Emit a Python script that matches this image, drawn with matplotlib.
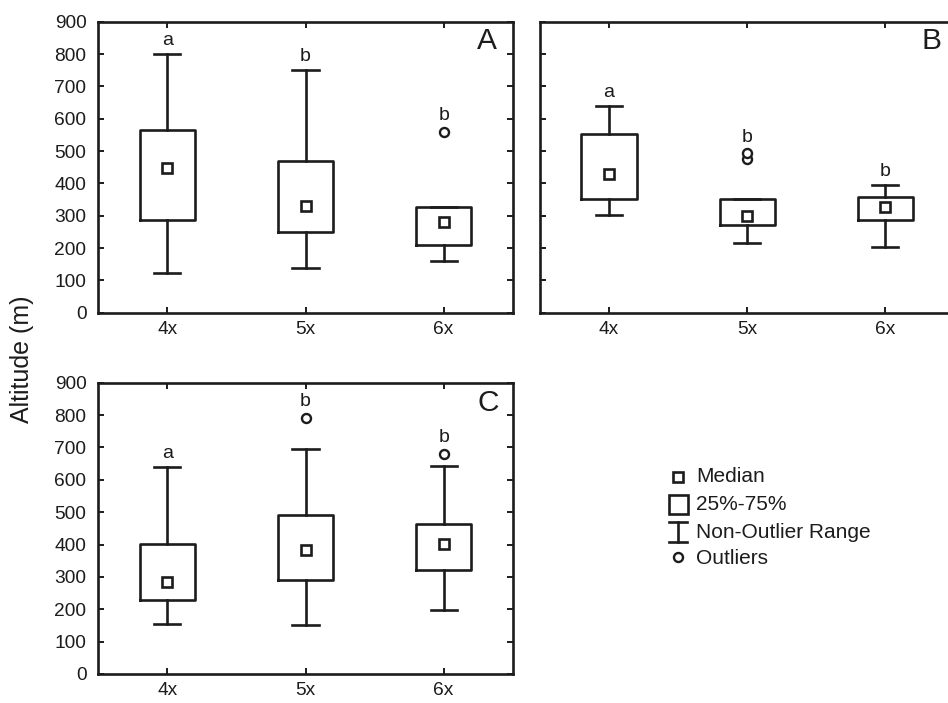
import matplotlib
matplotlib.use("Agg")
import matplotlib.pyplot as plt
from matplotlib.patches import Rectangle

plt.rcParams['font.family'] = ['Liberation Sans', 'DejaVu Sans']

categories = ["4x", "5x", "6x"]
yticks = [0, 100, 200, 300, 400, 500, 600, 700, 800, 900]

# Panel A
A_whislo = [122, 138, 161]
A_q1 = [286, 250, 208]
A_med = [447, 331, 280]
A_q3 = [565, 470, 326]
A_whishi = [800, 750, 326]
A_fliers = [[], [], [560]]
A_letters = ["a", "b", "b"]

# Panel B
B_whislo = [301, 216, 203]
B_q1 = [351, 270, 288]
B_med = [429, 299, 326]
B_q3 = [553, 352, 359]
B_whishi = [640, 352, 395]
B_fliers = [[], [474, 493], []]
B_letters = ["a", "b", "b"]

# Panel C
C_whislo = [153, 150, 199]
C_q1 = [228, 290, 321]
C_med = [285, 383, 402]
C_q3 = [401, 491, 463]
C_whishi = [640, 696, 644]
C_fliers = [[], [792], [681]]
C_letters = ["a", "b", "b"]

INK = "#1c1c1c"
LW = 1.9
W, H = 948, 703
fig = plt.figure(figsize=(W / 100, H / 100), dpi=100)


def px_axes(left, top, right, bottom):
    return fig.add_axes([left / W, 1 - bottom / H, (right - left) / W, (bottom - top) / H])


def draw_panel(ax, whislo, q1, med, q3, whishi, fliers, letters, tag, tag_x, tag_y, show_ylabels=True):
    stats = []
    for i, c in enumerate(categories):
        stats.append(dict(label=c, whislo=whislo[i], q1=q1[i], med=med[i], q3=q3[i],
                          whishi=whishi[i], fliers=fliers[i], mean=med[i]))
    pos = [1, 2, 3]
    ax.bxp(stats, positions=pos, widths=0.40, capwidths=0.19, showmeans=True,
           boxprops=dict(color=INK, linewidth=LW),
           whiskerprops=dict(color=INK, linewidth=LW),
           capprops=dict(color=INK, linewidth=LW),
           medianprops=dict(linewidth=0),
           meanprops=dict(marker='s', markerfacecolor='white', markeredgecolor=INK,
                          markersize=6.8, markeredgewidth=1.9),
           flierprops=dict(marker='o', markerfacecolor='white', markeredgecolor=INK,
                           markersize=6.5, markeredgewidth=1.7))
    for i in range(3):
        top = max([whishi[i], q3[i]] + list(fliers[i]))
        off = 50 if fliers[i] else 42
        ax.text(pos[i], top + off, letters[i], ha='center', va='center',
                fontsize=14, color=INK)
    ax.set_xlim(0.5, 3.5)
    ax.set_ylim(0, 900)
    ax.set_yticks(yticks)
    ax.set_xticks(pos)
    ax.set_xticklabels(categories)
    ax.tick_params(direction='in', length=4, width=1.4, colors=INK, labelsize=13.8,
                   top=True, right=True, labelcolor=INK)
    ax.tick_params(axis='x', pad=6)
    ax.tick_params(axis='y', pad=8.5)
    if not show_ylabels:
        ax.tick_params(axis='y', labelleft=False)
    for s in ax.spines.values():
        s.set_linewidth(1.9)
        s.set_color(INK)
    ax.text(tag_x, tag_y, tag, transform=ax.transAxes, ha='center', va='center',
            fontsize=21.5, color=INK)


axA = px_axes(98.3, 21.7, 512.7, 312.7)
draw_panel(axA, A_whislo, A_q1, A_med, A_q3, A_whishi, A_fliers, A_letters, "A", 0.937, 0.935)

axB = px_axes(540, 21.7, 954.4, 312.7)
draw_panel(axB, B_whislo, B_q1, B_med, B_q3, B_whishi, B_fliers, B_letters, "B", 0.945, 0.935,
           show_ylabels=False)

axC = px_axes(98.3, 382.7, 512.7, 674)
draw_panel(axC, C_whislo, C_q1, C_med, C_q3, C_whishi, C_fliers, C_letters, "C", 0.94, 0.93)

fig.text(22 / W, 1 - 359 / H, "Altitude (m)", rotation=90, ha='center', va='center',
         fontsize=18, color=INK)

# Legend (drawn in pixel coordinates of a blank axes)
lax = px_axes(655, 455, 905, 580)
lax.set_xlim(655, 905)
lax.set_ylim(580, 455)
lax.axis('off')
lax.plot([678], [477], marker='s', markerfacecolor='white', markeredgecolor=INK,
         markersize=6.8, markeredgewidth=1.9, linestyle='none')
lax.add_patch(Rectangle((668.5, 495), 19, 19, fill=False, edgecolor=INK, linewidth=LW))
lax.plot([678, 678], [522, 542], color=INK, linewidth=LW)
lax.plot([669, 687], [522, 522], color=INK, linewidth=LW)
lax.plot([669, 687], [542, 542], color=INK, linewidth=LW)
lax.plot([678], [557], marker='o', markerfacecolor='white', markeredgecolor=INK,
         markersize=6.5, markeredgewidth=1.7, linestyle='none')
for ytxt, label in zip([477, 505, 532, 558], ["Median", "25%-75%", "Non-Outlier Range", "Outliers"]):
    lax.text(696, ytxt, label, ha='left', va='center', fontsize=15, color=INK)

fig.savefig("out.png", dpi=100)
